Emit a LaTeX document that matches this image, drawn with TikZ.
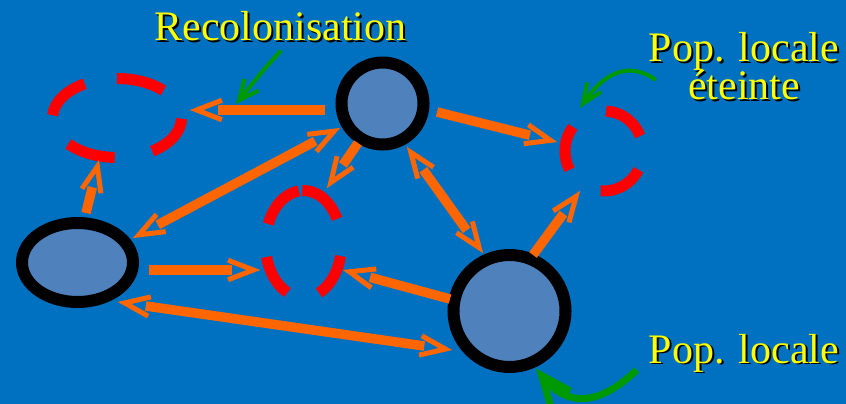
\documentclass[tikz,border=0pt]{standalone}
\usepackage{fontspec}
\setmainfont{Liberation Serif}
\usetikzlibrary{calc,shapes.geometric,arrows.meta}
\definecolor{bg}{RGB}{0,112,192}
\definecolor{popfill}{RGB}{79,129,189}
\definecolor{orangearr}{RGB}{255,102,0}
\definecolor{reddash}{RGB}{255,0,0}
\definecolor{greenarr}{RGB}{0,153,0}
\definecolor{labelyellow}{RGB}{255,255,0}
\newcommand\shad[1]{\makebox[0pt][l]{\kern1.7pt\raisebox{-1.7pt}{\color{black}#1}}#1}
% single migration arrow: tail -> tip
\newcommand\migr[2]{%
  \draw[oshaft] (#1) -- ($(#2)!0.84cm!(#1)$);
  \draw[ohead] ($(#2)!1.0cm!17:(#1)$) -- ($(#2)!0.2cm!(#1)$) -- ($(#2)!1.0cm!-17:(#1)$);}
% two-way migration arrow
\newcommand\migrtwo[2]{%
  \draw[oshaft] ($(#1)!0.84cm!(#2)$) -- ($(#2)!0.84cm!(#1)$);
  \draw[ohead] ($(#2)!1.0cm!17:(#1)$) -- ($(#2)!0.2cm!(#1)$) -- ($(#2)!1.0cm!-17:(#1)$);
  \draw[ohead] ($(#1)!1.0cm!17:(#2)$) -- ($(#1)!0.2cm!(#2)$) -- ($(#1)!1.0cm!-17:(#2)$);}
\begin{document}
\begin{tikzpicture}[x=0.03cm,y=-0.03cm,
  ring/.style={draw=black, fill=popfill, line width=0.36cm, inner sep=0pt},
  dashring/.style={draw=reddash, line width=0.33cm},
  oshaft/.style={draw=orangearr, line width=0.285cm},
  ohead/.style={draw=orangearr, line width=0.15cm, line join=miter},
  gpoint/.style={draw=greenarr, line width=0.12cm},
  plabel/.style={anchor=base, inner sep=0pt, text=labelyellow,
    font=\fontsize{35.85pt}{40pt}\selectfont}]
\fill[bg] (0,0) rectangle (846,404);
\useasboundingbox (0,0) rectangle (846,404);

% populations
\node[ring, circle, minimum size=2.46cm] (A) at (382.5,103.5) {};
\node[ring, ellipse, minimum width=3.33cm, minimum height=2.37cm] (B) at (77.5,262.5) {};
\node[ring, circle, minimum size=3.36cm] (C) at (509.5,311) {};

% extinct populations (dashed)
\coordinate (D1) at (117,118);
\coordinate (D2) at (303.5,244);
\coordinate (D3) at (604,151);
\foreach \a/\b in {184/240, 270/316, 1/57, 92/139}
  \draw[dashring] ($(D1)+(\a:64.5 and 39.5)$) arc[start angle=\a, end angle=\b, x radius=64.5, y radius=39.5];
\foreach \a/\b in {202/263, 268/332, 13/66, 115/166}
  \draw[dashring] ($(D2)+(\a:38 and 53.5)$) arc[start angle=\a, end angle=\b, x radius=38, y radius=53.5];
\foreach \a/\b in {152/217, 273/338, 28/95}
  \draw[dashring] ($(D3)+(\a:39 and 40)$) arc[start angle=\a, end angle=\b, x radius=39, y radius=40];

% arrow end points
\coordinate (m1s) at ($(A)+(-57.5,6.5)$);  \coordinate (m1e) at ($(D1)+(73,-8)$);
\coordinate (m2s) at ($(A)+(54.5,8.5)$);   \coordinate (m2e) at ($(D3)+(-47,-9)$);
\coordinate (m3s) at ($(A)+(-24.5,39.5)$); \coordinate (m3e) at ($(D2)+(23.5,-56)$);
\coordinate (m4s) at ($(B)+(8.5,-49.5)$);  \coordinate (m4e) at ($(D1)+(-18,42)$);
\coordinate (m5s) at ($(B)+(71.5,7.5)$);   \coordinate (m5e) at ($(D2)+(-43.5,26)$);
\coordinate (m6s) at ($(C)+(-59.5,-12)$);  \coordinate (m6e) at ($(D2)+(39.5,26)$);
\coordinate (m7s) at ($(C)+(23.5,-56)$);   \coordinate (m7e) at ($(D3)+(-24,40)$);
\coordinate (m8s) at ($(A)+(-42.5,24.5)$); \coordinate (m8e) at ($(B)+(55.5,-24.5)$);
\coordinate (m9s) at ($(A)+(24.5,43.5)$);  \coordinate (m9e) at ($(C)+(-26.5,-58)$);
\coordinate (m10s) at ($(B)+(40.5,39.5)$); \coordinate (m10e) at ($(C)+(-57.5,39)$);

\migr{m1s}{m1e}
\migr{m2s}{m2e}
\migr{m3s}{m3e}
\migr{m4s}{m4e}
\migr{m5s}{m5e}
\migr{m6s}{m6e}
\migr{m7s}{m7e}
\migrtwo{m8s}{m8e}
\migrtwo{m9s}{m9e}
\migrtwo{m10s}{m10e}

% labels
\node[plabel] (rec) at (280.5,40.5) {\shad{Recolonisation}};
\node[plabel] (ext1) at (744,62) {\shad{Pop. locale}};
\node[plabel] (ext2) at (744,100) {\shad{éteinte}};
\node[plabel] (loc) at (744,363) {\shad{Pop. locale}};

% green pointers
\coordinate (g1s) at ($(rec.south)+(0.5,7.5)$);
\coordinate (g1e) at ($(m1e)+(46,-6)$);
\coordinate (g2s) at ($(ext1.base west)+(7,18)$);
\coordinate (g2e) at ($(D3)+(-24,-43)$);
\coordinate (g3s) at ($(loc.base west)+(-12,7)$);
\coordinate (g3e) at ($(C)+(26.5,57.5)$);
\draw[gpoint, -{Straight Barb[length=0.6cm, width=0.55cm]}] (g1s) .. controls (265,68) .. (g1e);
\draw[gpoint, -{Straight Barb[length=0.6cm, width=0.5cm]}] (g2s) .. controls (628,60) and (603,74) .. (g2e);
\draw[gpoint, line width=0.21cm, -{Straight Barb[length=0.9cm, width=0.75cm]}] (g3s) .. controls (600,405) and (568,408) .. (g3e);
\end{tikzpicture}
\end{document}
